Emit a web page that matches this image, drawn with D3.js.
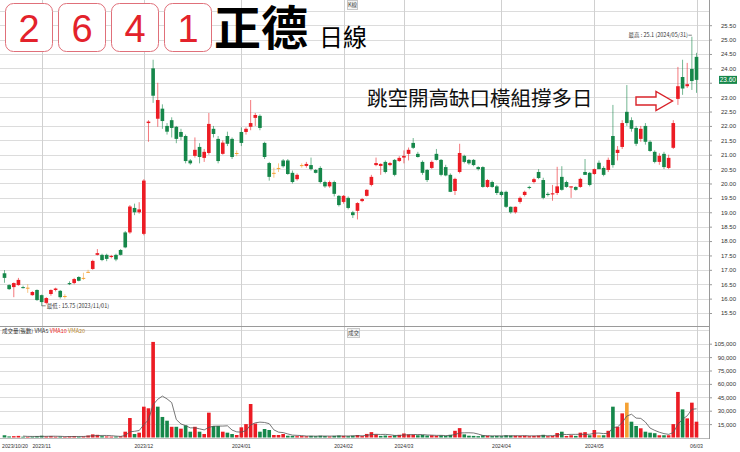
<!DOCTYPE html>
<html>
<head>
<meta charset="utf-8">
<script src="https://cdn.jsdelivr.net/npm/d3@7"></script>
<style>
  body { margin: 0; background: #fff; }
  text { font-family: "Liberation Sans", Arial, sans-serif; }
  .cjk { font-family: "Noto Sans CJK TC", "Noto Sans CJK SC", sans-serif; }
</style>
</head>
<body>
<script>
  // trading days per month
  var tradingDays = [
    ["2023/10", [20, 23, 24, 25, 26, 27, 30, 31]],
    ["2023/11", [1, 2, 3, 6, 7, 8, 9, 10, 13, 14, 15, 16, 17, 20, 21, 22, 23, 24, 27, 28, 29, 30]],
    ["2023/12", [1, 4, 5, 6, 7, 8, 11, 12, 13, 14, 15, 18, 19, 20, 21, 22, 25, 26, 27, 28, 29]],
    ["2024/01", [2, 3, 4, 5, 8, 9, 10, 11, 12, 15, 16, 17, 18, 19, 22, 23, 24, 25, 26, 29, 30, 31]],
    ["2024/02", [1, 2, 5, 15, 16, 19, 20, 21, 22, 23, 26, 27, 29]],
    ["2024/03", [1, 4, 5, 6, 7, 8, 11, 12, 13, 14, 15, 18, 19, 20, 21, 22, 25, 26, 27, 28, 29]],
    ["2024/04", [1, 2, 3, 8, 9, 10, 11, 12, 15, 16, 17, 18, 19, 22, 23, 24, 25, 26, 29, 30]],
    ["2024/05", [2, 3, 6, 7, 8, 9, 10, 13, 14, 15, 16, 17, 20, 21, 22, 23, 24, 27, 28, 29, 30, 31]],
    ["2024/06", [3]]
  ];

  var open = [16.88, 16.47, 16.40, 16.47, 16.40, 16.38, 16.12, 16.30, 16.12, 15.85,
    16.16, 16.30, 16.27, 16.09, 16.54, 16.54, 16.75, 16.72, 16.93, 17.03,
    17.52, 17.52, 17.52, 17.45, 17.52, 17.69, 18.30, 18.30, 19.15, 19.00,
    18.25, 22.10, 24.00, 22.25, 22.60, 22.00, 22.20, 21.97, 21.79, 21.65,
    20.80, 20.96, 21.27, 20.89, 21.06, 21.90, 21.55, 21.03, 21.65, 21.55,
    21.06, 21.79, 21.79, 21.97, 22.28, 22.35, 21.41, 20.71, 20.37, 20.54,
    20.80, 20.80, 20.37, 20.15, 20.64, 20.61, 20.64, 20.47, 20.54, 20.05,
    19.90, 20.05, 19.57, 19.36, 19.50, 19.00, 19.05, 19.39, 19.57, 19.95,
    20.64, 20.61, 20.75, 20.64, 20.82, 20.78, 20.90, 21.03, 21.41, 21.03,
    20.75, 20.47, 20.54, 21.03, 20.82, 20.57, 20.30, 19.74, 20.40, 20.96,
    20.82, 20.82, 20.57, 20.57, 19.88, 20.05, 19.90, 19.71, 19.71, 19.19,
    19.00, 19.36, 19.60, 19.88, 20.05, 20.40, 20.12, 19.64, 19.62, 19.67,
    20.23, 20.05, 19.86, 19.88, 19.88, 20.40, 20.37, 20.33, 20.72, 20.54,
    20.47, 21.65, 21.06, 21.27, 22.49, 22.20, 21.93, 21.55, 22.00, 21.45,
    21.10, 20.75, 21.03, 20.54, 21.24, 22.94, 23.70, 23.38, 23.98, 24.40];

  var high = [16.99, 16.50, 16.56, 16.72, 16.45, 16.50, 16.26, 16.32, 16.14, 16.05,
    16.32, 16.38, 16.30, 16.15, 16.60, 16.72, 16.78, 16.90, 17.00, 17.35,
    17.72, 17.56, 17.56, 17.52, 17.56, 17.72, 18.35, 19.25, 19.30, 19.35,
    20.15, 22.20, 24.30, 23.50, 22.75, 22.10, 22.30, 22.00, 21.90, 21.70,
    20.85, 21.60, 21.40, 21.20, 22.45, 22.00, 21.65, 21.50, 21.80, 21.60,
    21.15, 21.95, 21.95, 22.90, 22.45, 22.40, 21.45, 20.75, 20.55, 20.70,
    20.85, 20.85, 20.45, 20.35, 20.70, 20.75, 20.90, 20.50, 20.60, 20.10,
    20.10, 20.10, 19.60, 19.60, 19.55, 19.05, 19.35, 19.50, 19.80, 20.30,
    20.90, 20.70, 20.80, 20.75, 20.85, 20.95, 21.15, 21.25, 21.58, 21.10,
    20.80, 20.50, 20.80, 21.20, 20.85, 20.65, 20.35, 20.20, 21.38, 21.00,
    20.85, 20.85, 20.60, 20.60, 20.15, 20.10, 19.95, 19.75, 19.75, 19.20,
    19.20, 19.55, 19.75, 19.92, 20.20, 20.50, 20.20, 19.70, 19.95, 20.58,
    20.60, 20.10, 19.90, 19.90, 20.20, 20.85, 20.40, 20.52, 20.80, 20.60,
    20.90, 22.73, 21.30, 22.20, 23.42, 22.30, 22.00, 22.00, 22.10, 21.50,
    21.15, 21.05, 21.10, 21.00, 22.20, 24.05, 24.30, 24.19, 25.10, 24.54];

  var low = [16.55, 16.30, 16.05, 16.45, 16.35, 16.20, 16.10, 15.92, 15.75, 15.80,
    16.10, 16.25, 16.00, 16.00, 16.47, 16.50, 16.60, 16.65, 16.90, 17.00,
    17.50, 17.30, 17.30, 17.40, 17.30, 17.50, 17.75, 18.25, 18.90, 18.95,
    18.20, 21.45, 22.80, 21.97, 21.90, 21.70, 21.60, 21.40, 21.50, 20.70,
    20.65, 20.90, 20.70, 20.75, 21.00, 21.60, 20.70, 21.00, 21.30, 20.85,
    20.95, 21.30, 21.70, 21.85, 22.00, 21.85, 20.85, 20.10, 20.20, 20.40,
    20.55, 20.30, 20.00, 20.10, 20.55, 20.55, 20.45, 20.35, 20.00, 19.85,
    19.85, 19.55, 19.20, 19.30, 19.10, 18.80, 18.75, 19.35, 19.55, 19.90,
    20.60, 20.30, 20.35, 20.60, 20.25, 20.75, 20.70, 20.80, 21.20, 20.90,
    20.30, 20.05, 20.50, 20.80, 20.25, 20.25, 19.70, 19.60, 20.35, 20.70,
    20.65, 20.60, 20.45, 19.85, 19.85, 19.85, 19.60, 19.55, 19.15, 18.95,
    18.95, 19.30, 19.55, 19.80, 20.00, 20.15, 19.45, 19.55, 19.40, 19.60,
    19.75, 19.85, 19.50, 19.75, 19.85, 20.30, 19.90, 20.30, 20.50, 20.25,
    20.40, 20.55, 20.80, 21.20, 22.00, 21.80, 21.30, 21.45, 21.35, 21.10,
    20.70, 20.65, 20.50, 20.50, 21.20, 22.73, 23.08, 23.32, 23.25, 23.15];

  var close = [16.72, 16.33, 16.54, 16.65, 16.37, 16.38, 16.23, 15.95, 15.88, 16.02,
    16.30, 16.35, 16.05, 16.09, 16.50, 16.68, 16.62, 16.72, 16.93, 17.31,
    17.58, 17.34, 17.38, 17.48, 17.36, 17.52, 17.78, 19.20, 19.00, 19.10,
    20.10, 22.15, 23.05, 22.90, 22.17, 21.80, 21.93, 21.55, 21.62, 20.78,
    20.70, 21.17, 20.92, 21.10, 22.07, 21.72, 20.78, 21.42, 21.38, 20.92,
    21.06, 21.41, 21.90, 22.10, 22.38, 21.93, 20.92, 20.23, 20.37, 20.54,
    20.60, 20.33, 20.05, 20.30, 20.64, 20.68, 20.50, 20.37, 20.05, 19.90,
    20.05, 19.64, 19.25, 19.57, 19.15, 18.90, 19.32, 19.46, 19.78, 20.23,
    20.71, 20.68, 20.40, 20.71, 20.30, 20.89, 20.96, 21.17, 21.24, 20.92,
    20.37, 20.12, 20.75, 20.82, 20.30, 20.28, 19.71, 20.16, 21.06, 20.75,
    20.70, 20.64, 20.50, 19.88, 20.12, 19.88, 19.67, 19.60, 19.19, 19.00,
    19.19, 19.50, 19.71, 19.85, 20.15, 20.19, 19.50, 19.60, 19.66, 19.90,
    19.78, 19.88, 19.90, 19.78, 20.16, 20.30, 19.95, 20.50, 20.50, 20.30,
    20.82, 20.64, 21.17, 22.10, 22.10, 21.90, 21.38, 21.90, 21.45, 21.13,
    20.75, 20.96, 20.57, 20.89, 22.10, 23.38, 23.30, 23.45, 23.56, 23.60];

  var volume = [2500, 1200, 1500, 1800, 900, 800, 1000, 1500, 2000, 1200,
    1500, 900, 1100, 700, 1300, 1600, 1000, 1200, 2200, 3500,
    3000, 1500, 1200, 1000, 1100, 1400, 6500, 21800, 3900, 5400,
    34500, 32700, 107000, 34500, 23000, 18800, 12000, 12000, 9900, 13600,
    6500, 12000, 6500, 3900, 27800, 12900, 12900, 6500, 5400, 3900,
    2800, 11400, 15000, 37500, 15600, 6500, 9500, 8400, 2800, 2800,
    3900, 2000, 1800, 1500, 1600, 1400, 1800, 1500, 2000, 1600,
    1200, 1800, 2200, 1800, 1500, 2000, 2800, 1600, 4000, 6000,
    3500, 1800, 2200, 1800, 2500, 3000, 4500, 3500, 3200, 2500,
    2800, 2200, 2500, 2000, 2400, 1800, 3000, 7500, 10500, 3500,
    2000, 1800, 1500, 2500, 2000, 1600, 1800, 1500, 2500, 2200,
    2000, 1800, 2000, 1500, 1800, 2200, 3000, 1500, 1800, 5000,
    6500, 1700, 2500, 1800, 5400, 6000, 2500, 8400, 2500, 2500,
    7500, 34500, 12000, 27000, 39000, 17700, 12900, 10300, 6500, 5400,
    4800, 2500, 2500, 2500, 15000, 51000, 31500, 21400, 39000, 17700];

  var priceTicks = [15.5, 16, 16.5, 17, 17.5, 18, 18.5, 19, 19.5, 20, 20.5, 21, 21.5, 22, 22.5, 23, 23.5, 24, 24.5, 25, 25.5];
  var volTicks = [15000, 30000, 45000, 60000, 75000, 90000, 105000];
  var tickDates = ["2023/10/20", "2023/11/01", "2023/12/01", "2024/01/02", "2024/02/01", "2024/03/01", "2024/04/01", "2024/05/02", "2024/06/03"];
  var tickLabels = ["2023/10/20", "2023/11", "2023/12", "2024/01", "2024/02", "2024/03", "2024/04", "2024/05", "06/03"];
  var codeDigits = ["2", "6", "4", "1"];

  var dates = [];
  tradingDays.forEach(function(m) {
    m[1].forEach(function(d) {
      dates.push(m[0] + "/" + (d < 10 ? "0" + d : d));
    });
  });

  var data = dates.map(function(d, i) {
    return { date: d, o: open[i], h: high[i], l: low[i], c: close[i], v: volume[i], prev: i > 0 ? close[i - 1] : null };
  });

  // vma5
  data.forEach(function(d, i) {
    if (i >= 4) d.ma5 = d3.mean(data.slice(i - 4, i + 1), function(e) { return e.v; });
  });

  var RED = "#ec1c24", GREEN = "#16874a", ORANGE = "#f5a133", GRID = "#dcdcdc";
  var W = 740, H = 452, axisX = 709;
  var last = data[data.length - 1];

  var step = (696 - 5) / (dates.length - 1);
  var x = d3.scaleBand().domain(dates).range([5 - step / 2, 696 + step / 2]).paddingInner(0.22);
  var cx = function(d) { return x(d) + x.bandwidth() / 2; };

  var y = d3.scaleLinear().domain([15.5, 25.5]).range([313, 25.2]);
  var yv = d3.scaleLinear().domain([0, 105000]).range([437.5, 343.7]);

  var svg = d3.select("body").append("svg").attr("width", W).attr("height", H);

  // ---- grids
  var grid = svg.append("g").attr("shape-rendering", "crispEdges");
  grid.selectAll(".hp").data(priceTicks.concat([26])).enter().append("line")
    .attr("x1", 0).attr("x2", axisX).attr("y1", function(d) { return Math.round(y(d)) + 0.5; })
    .attr("y2", function(d) { return Math.round(y(d)) + 0.5; })
    .attr("stroke", GRID);
  grid.selectAll(".hv").data(volTicks.concat([120000])).enter().append("line")
    .attr("x1", 0).attr("x2", axisX).attr("y1", function(d) { return Math.round(yv(d)) + 0.5; })
    .attr("y2", function(d) { return Math.round(yv(d)) + 0.5; })
    .attr("stroke", GRID);
  grid.selectAll(".vv").data(tickDates.slice(1)).enter().append("line")
    .attr("x1", function(d) { return Math.round(cx(d)) + 0.5; })
    .attr("x2", function(d) { return Math.round(cx(d)) + 0.5; })
    .attr("y1", 0).attr("y2", 438).attr("stroke", "#d0d0d0");

  // frame
  var frame = svg.append("g").attr("shape-rendering", "crispEdges").attr("stroke", "#9a9a9a");
  frame.append("line").attr("x1", 0).attr("x2", axisX).attr("y1", 326.5).attr("y2", 326.5);
  frame.append("line").attr("x1", 0).attr("x2", axisX).attr("y1", 438.5).attr("y2", 438.5).attr("stroke", "#bbb");
  frame.append("line").attr("x1", axisX + 0.5).attr("x2", axisX + 0.5).attr("y1", 0).attr("y2", 439);

  // ---- title boxes
  var title = svg.append("g");
  title.selectAll("rect").data(codeDigits).enter().append("rect")
    .attr("x", function(d, i) { return 5.5 + i * 53; }).attr("y", 3.5)
    .attr("width", 47).attr("height", 48).attr("rx", 8)
    .attr("fill", "#fff").attr("stroke", "#e0707a").attr("stroke-width", 1);
  title.selectAll("text").data(codeDigits).enter().append("text")
    .attr("x", function(d, i) { return 29 + i * 53; }).attr("y", 42)
    .attr("text-anchor", "middle").attr("font-size", 38).attr("fill", "#e3222b")
    .text(function(d) { return d; });
  title.append("text").attr("class", "cjk").attr("x", 214).attr("y", 45)
    .attr("font-size", 47).attr("font-weight", 700).attr("fill", "#000").text("正德");
  title.append("text").attr("class", "cjk").attr("x", 319).attr("y", 46)
    .attr("font-size", 24).attr("fill", "#000").text("日線");

  // small panel tags
  function tag(x0, y0, w, label) {
    svg.append("rect").attr("x", x0 + 0.5).attr("y", y0 + 0.5).attr("width", w).attr("height", 9)
      .attr("fill", "#f4f4f4").attr("stroke", "#c8c8c8");
    svg.append("text").attr("class", "cjk").attr("x", x0 + w / 2 + 0.5).attr("y", y0 + 7)
      .attr("text-anchor", "middle").attr("font-size", 5.5).attr("fill", "#444").text(label);
  }
  tag(347, 0, 10, "K線");
  tag(347, 328, 12, "成交");

  // ---- candles
  function ccol(d) { return d.c > d.o ? RED : (d.c < d.o ? GREEN : ORANGE); }
  var candles = svg.append("g").selectAll("g").data(data).enter().append("g");
  candles.append("line")
    .attr("x1", function(d) { return cx(d.date); }).attr("x2", function(d) { return cx(d.date); })
    .attr("y1", function(d) { return y(d.h); }).attr("y2", function(d) { return y(d.l); })
    .attr("stroke", ccol).attr("stroke-width", 0.8).attr("stroke-opacity", 0.75);
  candles.append("rect")
    .attr("x", function(d) { return x(d.date); }).attr("width", x.bandwidth())
    .attr("y", function(d) { return y(Math.max(d.o, d.c)); })
    .attr("height", function(d) { return Math.max(1, Math.abs(y(d.o) - y(d.c))); })
    .attr("fill", ccol);

  // ---- volume
  function vcol(d) {
    if (d.prev === null) return GREEN;
    return d.c > d.prev ? RED : (d.c < d.prev ? GREEN : ORANGE);
  }
  svg.append("g").selectAll("rect").data(data).enter().append("rect")
    .attr("x", function(d) { return x(d.date); }).attr("width", x.bandwidth())
    .attr("y", function(d) { return yv(d.v); })
    .attr("height", function(d) { return yv(0) - yv(d.v); })
    .attr("fill", vcol);

  svg.append("path").datum(data.filter(function(d) { return d.ma5 !== undefined; }))
    .attr("fill", "none").attr("stroke", "#555").attr("stroke-width", 0.8)
    .attr("d", d3.line().x(function(d) { return cx(d.date); }).y(function(d) { return yv(d.ma5); }));

  // ---- right axes (label hidden under the last-close tag is skipped)
  var ax = svg.append("g").attr("transform", "translate(" + axisX + ",0)");
  ax.call(d3.axisRight(y).tickValues(priceTicks).tickSize(3)
    .tickFormat(function(d) { return Math.abs(y(d) - y(last.c)) < 6 ? "" : d.toFixed(2); }));
  var axv = svg.append("g").attr("transform", "translate(" + axisX + ",0)");
  axv.call(d3.axisRight(yv).tickValues(volTicks).tickSize(3).tickFormat(d3.format(",")));
  [ax, axv].forEach(function(a) {
    a.select(".domain").remove();
    a.selectAll("line").attr("stroke", "#999");
    a.selectAll("text").attr("x", 27).attr("text-anchor", "end")
      .attr("font-size", 6).attr("fill", "#333").attr("font-family", "Liberation Sans, Arial, sans-serif");
  });

  // last close tag
  svg.append("rect").attr("x", 719).attr("y", y(last.c) - 4).attr("width", 18).attr("height", 8).attr("fill", GREEN);
  svg.append("text").attr("x", 736).attr("y", y(last.c) + 2.2).attr("text-anchor", "end")
    .attr("font-size", 6.5).attr("fill", "#fff").text(last.c.toFixed(2));

  // ---- x labels
  svg.append("g").selectAll("text").data(tickDates).enter().append("text")
    .attr("x", function(d, i) { return i === 0 ? 2 : cx(d); })
    .attr("y", 448)
    .attr("text-anchor", function(d, i) { return i === 0 ? "start" : "middle"; })
    .attr("font-size", 5.2).attr("fill", "#333")
    .text(function(d, i) { return tickLabels[i]; });

  // ---- volume legend
  var lg = svg.append("text").attr("class", "cjk").attr("x", 2).attr("y", 333).attr("font-size", 5.5);
  lg.append("tspan").attr("fill", "#333").text("成交量(張數) VMA5 ");
  lg.append("tspan").attr("fill", RED).text("VMA10 ");
  lg.append("tspan").attr("fill", "#b8862b").text("VMA20");

  // ---- high / low marks
  var hiIdx = d3.maxIndex(data, function(d) { return d.h; });
  var loIdx = d3.minIndex(data, function(d) { return d.l; });
  var hi = data[hiIdx], lo = data[loIdx];
  svg.append("text").attr("class", "cjk").attr("x", cx(hi.date) - 4).attr("y", y(hi.h) + 0.5)
    .attr("text-anchor", "end").attr("font-size", 5.5).attr("fill", "#333")
    .text("最高 : " + hi.h + " (" + hi.date + ")");
  svg.append("line").attr("x1", cx(hi.date) - 3.5).attr("x2", cx(hi.date)).attr("y1", y(hi.h) - 1.5).attr("y2", y(hi.h) - 1.5)
    .attr("stroke", "#333").attr("stroke-width", 0.6);
  svg.append("text").attr("class", "cjk").attr("x", cx(lo.date) + 5).attr("y", y(lo.l) + 2)
    .attr("font-size", 5.5).attr("fill", "#333")
    .text("最低 : " + lo.l + " (" + lo.date + ")");
  svg.append("line").attr("x1", cx(lo.date)).attr("x2", cx(lo.date) + 4).attr("y1", y(lo.l)).attr("y2", y(lo.l))
    .attr("stroke", "#333").attr("stroke-width", 0.6);

  // ---- annotation
  svg.append("text").attr("class", "cjk").attr("x", 367).attr("y", 106)
    .attr("font-size", 20.5).attr("fill", "#111").text("跳空開高缺口橫組撐多日");
  svg.append("path")
    .attr("d", "M636,97 L656,97 L656,91.5 L672.5,101 L656,110.5 L656,105 L636,105 Z")
    .attr("fill", "#fff").attr("stroke", "#d9232a").attr("stroke-width", 1.4);
</script>
</body>
</html>
